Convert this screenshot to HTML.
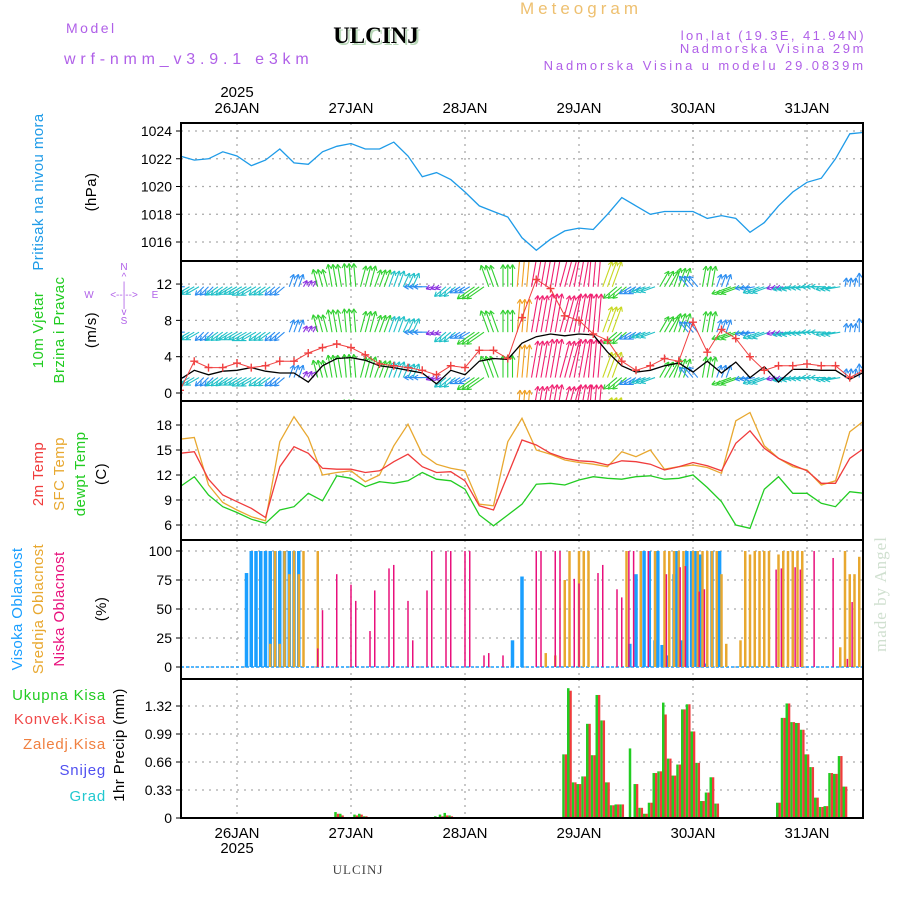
<!DOCTYPE html>
<html><head><meta charset="utf-8"><style>
body{margin:0;background:#fff;width:900px;height:900px;overflow:hidden}
svg{display:block;font-family:"Liberation Sans","DejaVu Sans",sans-serif}
</style></head><body>
<svg id="chart" width="900" height="900" viewBox="0 0 900 900" xmlns="http://www.w3.org/2000/svg">
<defs>
<clipPath id="c1"><rect x="181" y="123" width="682" height="138"/></clipPath>
<clipPath id="c2"><rect x="181" y="262" width="682" height="139"/></clipPath>
<clipPath id="c3"><rect x="181" y="402" width="682" height="138"/></clipPath>
<clipPath id="c4"><rect x="181" y="541" width="682" height="138"/></clipPath>
<clipPath id="c5"><rect x="181" y="680" width="682" height="138"/></clipPath>
</defs>
<text x="520" y="14" font-size="17" fill="#eec070" letter-spacing="4">Meteogram</text>
<text x="66" y="33" font-size="14" fill="#b060e8" letter-spacing="2.5">Model</text>
<text x="376" y="43" font-size="23" font-weight="bold" font-family="Liberation Serif,serif" fill="#b8d8b8" text-anchor="middle" transform="translate(2,2)">ULCINJ</text>
<text x="376" y="43" font-size="23" font-weight="bold" font-family="Liberation Serif,serif" fill="#000" text-anchor="middle">ULCINJ</text>
<text x="64" y="64" font-size="16" fill="#b060e8" letter-spacing="4.8">wrf-nmm_v3.9.1 e3km</text>
<text x="866" y="40" font-size="13" fill="#b060e8" text-anchor="end" letter-spacing="2.4">lon,lat (19.3E, 41.94N)</text>
<text x="866" y="53" font-size="13" fill="#b060e8" text-anchor="end" letter-spacing="2.6">Nadmorska Visina 29m</text>
<text x="866" y="70" font-size="13" fill="#b060e8" text-anchor="end" letter-spacing="2.9">Nadmorska Visina u modelu 29.0839m</text>
<text x="0" y="0" font-size="17" fill="#d0e0d0" font-family="Liberation Serif,serif" letter-spacing="1" transform="translate(886,652) rotate(-90)">made by Angel</text>
<text x="358" y="874" font-size="13" font-family="Liberation Serif,serif" fill="#444" text-anchor="middle" letter-spacing="1">ULCINJ</text>
<g id="labels" font-size="15"></g>
<g id="grid"></g>
<g id="marks"></g>
<g id="frames"></g>
</svg>
<script>
// ---- data (hours from 25 JAN 12:00) ----
const dayLabels=["26JAN","27JAN","28JAN","29JAN","30JAN","31JAN"];
const dayHours=[12,36,60,84,108,132];
const hours3=[0,3,6,9,12,15,18,21,24,27,30,33,36,39,42,45,48,51,54,57,60,63,66,69,72,75,78,81,84,87,90,93,96,99,102,105,108,111,114,117,120,123,126,129,132,135,138,141,144];
const pressure=[1022.2,1021.9,1022.0,1022.5,1022.2,1021.5,1021.9,1022.7,1021.7,1021.6,1022.5,1022.9,1023.1,1022.7,1022.7,1023.2,1022.2,1020.7,1021.0,1020.5,1019.6,1018.6,1018.2,1017.8,1016.3,1015.4,1016.2,1016.8,1017.0,1016.9,1018.0,1019.2,1018.6,1018.0,1018.2,1018.2,1018.2,1017.7,1017.9,1017.7,1016.7,1017.4,1018.6,1019.6,1020.3,1020.6,1022.0,1023.8,1023.9];
const windSpeed=[1.5,2.5,2.0,2.4,2.5,2.8,2.4,2.2,2.2,1.2,3.0,3.8,3.9,3.6,3.0,2.8,2.5,2.2,1.0,2.5,2.0,3.5,3.8,3.7,5.5,6.2,6.5,6.3,6.5,6.4,4.5,3.0,2.3,2.5,3.0,3.3,2.3,3.5,2.2,3.4,1.7,2.9,1.2,2.6,2.6,2.5,2.5,1.5,2.3];
const windGust=[0.3,3.5,2.8,2.8,3.3,2.8,3.0,3.5,3.5,4.4,5.0,5.4,5.0,4.2,3.2,3.0,2.8,2.5,2.0,3.0,2.8,4.7,4.7,3.8,8.3,12.5,11.5,8.5,8.0,6.5,5.8,3.5,2.5,3.0,3.8,3.5,7.8,4.5,7.0,6.0,4.0,2.5,3.0,3.0,3.2,3.0,3.0,1.7,2.5];
const windDir=[270,240,225,235,240,240,235,230,20,30,345,350,355,15,20,20,25,270,250,230,240,235,340,0,5,10,10,15,10,5,20,230,240,250,30,20,320,10,20,250,260,250,255,260,265,270,260,10,0];
const temp2m=[14.6,14.8,11.5,9.6,8.8,8.0,6.9,13.0,15.4,14.6,12.8,12.7,12.7,12.3,12.5,13.6,14.5,13.0,12.3,12.4,11.3,8.3,7.8,12.0,16.2,15.6,14.6,14.0,13.7,13.6,13.2,13.7,13.6,13.3,12.6,13.0,13.5,13.1,12.5,15.8,17.3,15.2,14.0,13.2,12.5,11.0,11.0,14.0,15.2];
const tempSfc=[16.3,16.5,10.8,8.7,7.8,7.0,6.5,16.0,19.0,16.5,12.0,12.3,12.5,11.2,12.0,15.5,18.1,14.5,13.3,12.8,12.5,8.5,8.3,16.0,18.8,15.0,14.5,13.8,13.5,13.3,13.0,14.8,14.2,15.0,12.7,13.0,13.2,12.9,12.2,18.5,19.5,15.5,14.0,13.0,12.6,10.8,11.3,17.2,18.5];
const dewpt=[10.6,11.8,9.6,8.2,7.5,6.7,6.2,7.8,8.2,9.8,8.9,11.9,11.6,10.6,11.2,11.0,11.3,12.3,11.5,11.3,10.3,7.2,5.9,7.2,8.5,10.9,11.0,10.8,11.4,11.8,11.6,11.5,11.8,11.9,11.5,11.6,12.0,10.5,8.8,6.0,5.6,10.3,11.8,9.8,9.8,8.6,8.2,10.0,9.8];
const highT=[14,15,16,17,18,19,20,21,22,23,24,25,70,72,94.7,96,97.7,98.8,100,100.6,101.5,102.8,104,104.6,105.6,106.7,107.7,108.6,109.5,110.9,112,113.6];
const highV=[81,100,100,100,100,100,100,100,100,100,100,100,23,78,20,80,100,100,23,100,19,10,80,100,23,100,100,100,97,3,100,100];
const midT=[19,20,21,22,23,24,25,26,29,77,79,81,82,84,85,86,94,97,100,102,103,104,105,106,108,109,110,111,112,113,114,115,118,119,120,121,122,123,124,126,127,128,129,130,131,139,140,141,142,143];
const midV=[20,100,20,100,80,100,80,100,100,12,10,75,100,100,100,100,100,100,100,100,100,100,100,100,100,100,100,100,100,100,80,20,23,100,97,100,100,100,100,97,100,100,100,100,100,17,100,80,80,95];
const lowT=[29,30,33,36,37,40,41,44,45,48,49,52,53,56,57,60,61,64,65,68,75,76,79,80,83,84,88,89,92,93,94.5,95.5,98.6,102.4,105.3,106.4,109.3,110.4,125.5,126.6,129.5,130.6,133.5,137.5,140.5,141.5];
const lowV=[16,49,80,71,57,31,66,85,88,57,23,66,100,100,100,100,100,10,12,10,100,100,100,100,76,72,81,88,67,60,100,100,100,80,86,87,65,67,84,85,86,84,100,94,7,56];
const precipT=[33,34,37,38,39,54,55,56,57,77,81,82,83,84,85,86,87,88,89,90,91,92,93,95,96,97,98,99,100,101,102,103,104,105,106,107,108,109,110,111,112,113,126,127,128,129,130,131,132,133,134,135,136,137,138,139,140];
const precipTotal=[0.07,0.05,0.04,0.05,0.02,0.02,0.04,0.06,0.03,0.01,0.75,1.53,0.42,0.40,0.49,1.11,0.74,1.45,1.15,0.42,0.15,0.16,0.16,0.82,0.40,0.12,0.05,0.18,0.53,0.55,1.36,0.70,0.50,0.63,1.28,1.34,1.02,0.65,0.20,0.30,0.48,0.17,0.18,1.18,1.35,1.13,1.12,1.04,0.75,0.60,0.24,0.13,0.14,0.53,0.52,0.73,0.37];
const precipConv=[0.05,0.03,0.03,0.04,0.02,0.01,0.02,0.03,0.02,0.0,0.75,1.50,0.42,0.40,0.49,1.11,0.74,1.45,1.15,0.42,0.15,0.16,0.16,0.0,0.40,0.12,0.05,0.18,0.53,0.55,1.22,0.70,0.50,0.63,1.28,1.34,1.02,0.65,0.20,0.30,0.48,0.17,0.18,1.18,1.35,1.13,1.12,1.04,0.75,0.60,0.24,0.13,0.14,0.53,0.52,0.73,0.37];
const pTicks=[1016,1018,1020,1022,1024];
const wTicks=[0,4,8,12];
const tTicks=[6,9,12,15,18];
const cTicks=[0,25,50,75,100];
const rTicks=[0,0.33,0.66,0.99,1.32];

// ---- axes ----
const X=t=>180+t*4.75;
const Y1=v=>131+(1024-v)*13.875;
const Y2=v=>393-v*9.08;
const Y3=v=>525-(v-6)*8.333;
const Y4=v=>667-v*1.16;
const Y5=v=>818-v*84.85;
const NS="http://www.w3.org/2000/svg";
function mk(tag,attrs,parent){const e=document.createElementNS(NS,tag);for(const k in attrs)e.setAttribute(k,attrs[k]);parent.appendChild(e);return e;}
const grid=document.getElementById('grid'),marks=document.getElementById('marks'),frames=document.getElementById('frames'),labels=document.getElementById('labels');
const panels=[{top:123,bot:261,ticks:pTicks,Y:Y1,name:'pressure'},{top:261,bot:401,ticks:wTicks,Y:Y2,name:'wind'},{top:401,bot:540,ticks:tTicks,Y:Y3,name:'temperature'},{top:540,bot:679,ticks:cTicks,Y:Y4,name:'cloud'},{top:679,bot:818,ticks:rTicks,Y:Y5,name:'precip'}];
panels.forEach((p,i)=>{
  dayHours.forEach(h=>{
    const l=mk('line',{x1:X(h),x2:X(h),y1:p.top,y2:p.bot,stroke:'#aaa','stroke-width':1.3,'stroke-dasharray':'2,5'},grid);
    
    
  });
  p.ticks.forEach(v=>{
    const y=p.Y(v);
    const l=mk('line',{x1:181,x2:863,y1:y,y2:y,stroke:'#aaa','stroke-width':1.3,'stroke-dasharray':'2,5'},grid);
    
    
    mk('line',{x1:176,x2:181,y1:y,y2:y,stroke:'#000'},frames);
    const tx=mk('text',{x:172,y:y+5,'font-size':14,'text-anchor':'end',fill:'#000'},frames);
    tx.textContent=(p.name==='precip'&&v===0)?'0':(p.name==='precip'?v.toFixed(2):v);
    
    
  });
  const r=mk('rect',{x:181,y:p.top,width:682,height:p.bot-p.top,fill:'none',stroke:'#000','stroke-width':2},frames);
  
  
});
dayLabels.forEach((d,i)=>{
  const a=mk('text',{x:X(dayHours[i]),y:113,'font-size':15,'text-anchor':'middle'},frames);a.textContent=d;
  
  
  const b=mk('text',{x:X(dayHours[i]),y:838,'font-size':15,'text-anchor':'middle'},frames);b.textContent=d;
  
  
});
[[97,'top'],[853,'bottom']].forEach(([y,n])=>{const t=mk('text',{x:X(12),y:y,'font-size':15,'text-anchor':'middle'},frames);t.textContent='2025';
  
  });

function line(ts,vs,Y,color,clip,name,w){
  const d=ts.map((t,i)=>(i?'L':'M')+X(t).toFixed(1)+','+Y(vs[i]).toFixed(1)).join('');
  const p=mk('path',{d:d,fill:'none',stroke:color,'stroke-width':w||1.3,'clip-path':'url(#'+clip+')'},marks);
  
  
}
// pressure
line(hours3,pressure,Y1,'#1e9be8','c1','pressure-line');
// wind arrows: drawn hourly, each hour uses its nearest data sample
function windColor(s){return s<1.5?'#8a30e0':s<2.4?'#2a8cf0':s<3.0?'#20c0c8':s<4.0?'#30d030':s<5?'#c8d820':s<6?'#f0a020':'#f02070';}
const rows=[11.7,6.7,1.7,-3.3];
rows.forEach(r=>{
  for(let h=0;h<=144;h++){
    let i=0,best=1e9;hours3.forEach((t,j)=>{const d=Math.abs(t-h);if(d<best){best=d;i=j;}});
    const s=windSpeed[i],a=windDir[i]*Math.PI/180,L=s*6;
    const x0=X(h),y0=Y2(r),x1=x0+L*Math.sin(a),y1=y0-L*Math.cos(a);
    const g=mk('g',{stroke:windColor(s),'stroke-width':1.1,fill:'none','clip-path':'url(#c2)'},marks);
    
    
    mk('line',{x1:x0,y1:y0,x2:x1,y2:y1},g);
    const ang=Math.atan2(y1-y0,x1-x0);
    [2.6,-2.6].forEach(da=>mk('line',{x1:x1,y1:y1,x2:x1-5*Math.cos(ang+da*0.2),y2:y1-5*Math.sin(ang+da*0.2)},g));
  }
});
line(hours3,windSpeed,Y2,'#000','c2','wind-speed-line');
line(hours3,windGust,Y2,'#f04040','c2','wind-gust-line',1);
hours3.forEach((t,i)=>{
  const x=X(t),y=Y2(windGust[i]);
  const p=mk('path',{d:`M${x-4},${y}H${x+4}M${x},${y-4}V${y+4}`,stroke:'#f04040','stroke-width':1.4,'clip-path':'url(#c2)'},marks);
  
  
});
// temperatures
line(hours3,tempSfc,Y3,'#e8a830','c3','sfc-temp-line');
line(hours3,temp2m,Y3,'#f03c3c','c3','2m-temp-line');
line(hours3,dewpt,Y3,'#22cc22','c3','dewpoint-line');
// clouds
function bars(ts,vs,Y,color,w,off,clip,name){
  ts.forEach((t,i)=>{
    const y=Y(vs[i]),y0=Y(0);
    const r=mk('rect',{x:X(t)+off,y:y,width:w,height:Math.max(0,y0-y),fill:color,'clip-path':'url(#'+clip+')'},marks);
    
    
  });
}
const base=mk('line',{x1:181,x2:863,y1:Y4(0),y2:Y4(0),stroke:'#1a9fff','stroke-width':1.5,'stroke-dasharray':'3,2'},marks);


bars(highT,highV,Y4,'#1a9fff',3.5,-1.75,'c4','high-cloud-bar');
bars(midT,midV,Y4,'#e8a830',2.5,-1.25,'c4','mid-cloud-bar');
bars(lowT,lowV,Y4,'#e8107c',1.5,-0.75,'c4','low-cloud-bar');
// precip
bars(precipT,precipTotal,Y5,'#22cc22',2.5,-2.5,'c5','total-precip-bar');
bars(precipT,precipConv,Y5,'#f03c3c',2.3,0,'c5','convective-precip-bar');
const pb=mk('line',{x1:181,x2:863,y1:Y5(0),y2:Y5(0),stroke:'#000','stroke-width':2,'stroke-dasharray':'5,2'},marks);



// left labels
function vlabel(x,cy,txt,color,name,size){
  const t=mk('text',{x:0,y:0,'text-anchor':'middle',fill:color,'font-size':size||15,'letter-spacing':'0.4',transform:`translate(${x},${cy}) rotate(-90)`},labels);
  t.textContent=txt;
  
  
}
vlabel(43,192,'Pritisak na nivou mora','#1e9be8','pressure-axis-title');
vlabel(96,192,'(hPa)','#000','pressure-unit');
vlabel(43,330,'10m Vjetar','#22cc22','wind-axis-title');
vlabel(64,330,'Brzina i Pravac','#22cc22','wind-axis-subtitle');
vlabel(96,330,'(m/s)','#000','wind-unit');
vlabel(43,474,'2m Temp','#f03c3c','temp2m-axis-title');
vlabel(64,474,'SFC Temp','#e8a830','sfc-temp-axis-title');
vlabel(85,474,'dewpt Temp','#22cc22','dewpt-axis-title');
vlabel(106,474,'(C)','#000','temp-unit');
vlabel(22,609,'Visoka Oblacnost','#1a9fff','high-cloud-axis-title');
vlabel(43,609,'Srednja Oblacnost','#e8a830','mid-cloud-axis-title');
vlabel(64,609,'Niska Oblacnost','#e8107c','low-cloud-axis-title');
vlabel(106,609,'(%)','#000','cloud-unit');
vlabel(124,745,'1hr Precip (mm)','#000','precip-axis-title');
[['Ukupna Kisa','#22cc22',700],['Konvek.Kisa','#f04848',724],['Zaledj.Kisa','#f08040',749],['Snijeg','#5050f0',775],['Grad','#20c8d0',801]].forEach(([s,c,y])=>{
  const t=mk('text',{x:106,y:y,'text-anchor':'end',fill:c,'font-size':15,'letter-spacing':'0.8'},labels);
  t.textContent=s;
  
  
});
// compass
const cg=mk('g',{fill:'#b060e8','font-size':10,'text-anchor':'middle'},labels);


[[124,270,'N'],[124,280,'^'],[124,289,'|'],[89,298,'W'],[124,298,'<--|-->'],[155,298,'E'],[124,307,'|'],[124,315,'v'],[124,324,'S']].forEach(([x,y,s])=>{const t=mk('text',{x:x,y:y},cg);t.textContent=s;});
</script>
</body></html>
